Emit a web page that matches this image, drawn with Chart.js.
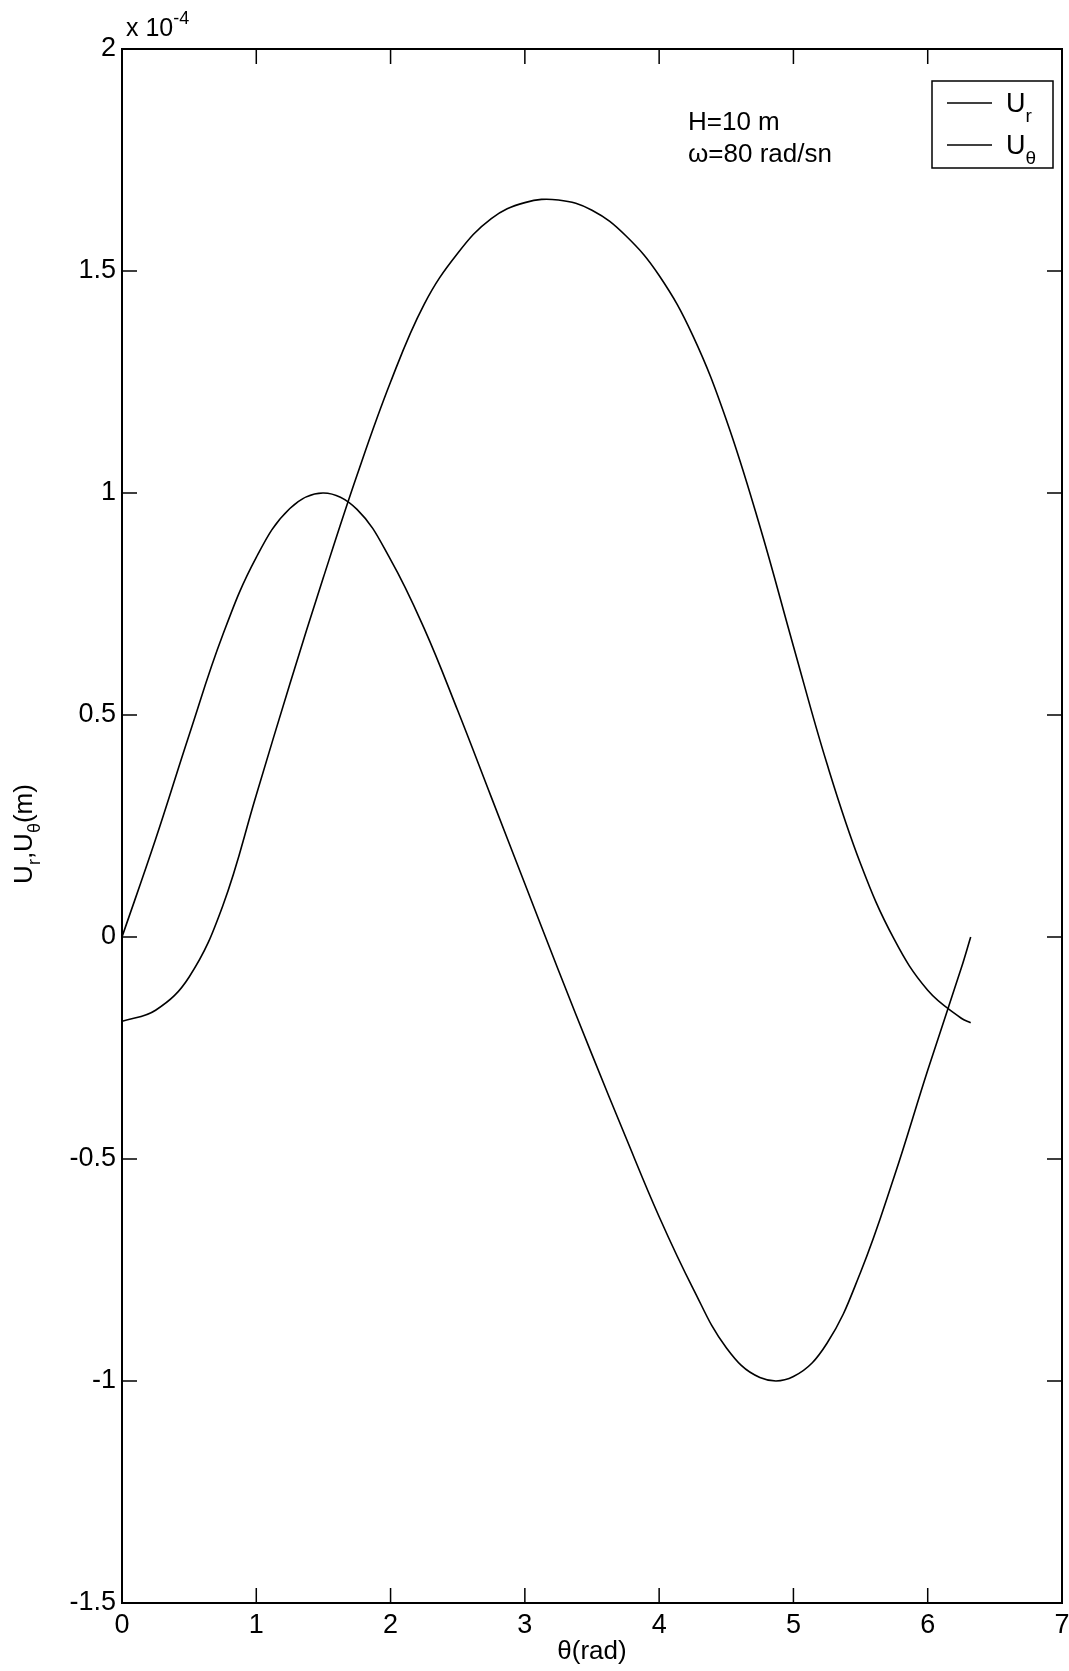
<!DOCTYPE html>
<html>
<head>
<meta charset="utf-8">
<script src="https://cdn.jsdelivr.net/npm/chart.js@4.4.0/dist/chart.umd.min.js"></script>
<style>
  html, body { margin: 0; padding: 0; background: #fff; }
  #wrap { width: 1069px; height: 1671px; }
</style>
</head>
<body>
<div id="wrap"><canvas id="c" width="1069" height="1671"></canvas></div>
<script>
// values, y in units of 1e-4 m
const theta = [0, 0.25, 0.5, 0.75, 1, 1.25, 1.5, 1.75, 2, 2.25, 2.5, 2.75, 3, 3.25, 3.5, 3.75, 4, 4.25, 4.5, 4.75, 5, 5.25, 5.5, 5.75, 6, 6.25, 6.32];
const ur = [0, 0.22, 0.455, 0.68, 0.855, 0.965, 1.0, 0.963, 0.85, 0.695, 0.51, 0.315, 0.12, -0.075, -0.265, -0.45, -0.63, -0.79, -0.925, -0.992, -0.99, -0.915, -0.755, -0.54, -0.3, -0.07, 0];
const ut = [-0.19, -0.165, -0.09, 0.07, 0.32, 0.57, 0.81, 1.04, 1.25, 1.425, 1.54, 1.618, 1.654, 1.66, 1.637, 1.58, 1.49, 1.355, 1.165, 0.925, 0.655, 0.39, 0.165, -0.005, -0.12, -0.183, -0.193];
const xTicks = [0, 1, 2, 3, 4, 5, 6, 7];
const yTicks = [-1.5, -1, -0.5, 0, 0.5, 1, 1.5, 2];
const legendItems = [{ main: "U", sub: "r" }, { main: "U", sub: "\u03b8" }];
const notes = ["H=10 m", "\u03c9=80 rad/sn"];

const FONT = '"Liberation Sans", Arial, Helvetica, sans-serif';

// text runs with sub/superscripts: [{t, size, dy}]
function richWidth(ctx, parts) {
  let w = 0;
  parts.forEach((p) => {
    ctx.font = p.size + "px " + FONT;
    w += ctx.measureText(p.t).width;
  });
  return w;
}
function drawRich(ctx, parts, x, y, align) {
  let cx = x;
  if (align === "center") cx = x - richWidth(ctx, parts) / 2;
  ctx.textAlign = "left";
  ctx.textBaseline = "alphabetic";
  parts.forEach((p) => {
    ctx.font = p.size + "px " + FONT;
    ctx.fillText(p.t, cx, y + (p.dy || 0));
    cx += ctx.measureText(p.t).width;
  });
}

const framePlugin = {
  id: "frame",
  afterDraw(chart) {
    const { ctx, chartArea: a, scales } = chart;
    ctx.save();
    ctx.strokeStyle = "#000";
    ctx.fillStyle = "#000";

    // box + inward ticks on all four sides
    ctx.lineWidth = 2;
    ctx.strokeRect(a.left, a.top, a.right - a.left, a.bottom - a.top);
    const tl = 15;
    ctx.lineWidth = 1.5;
    ctx.beginPath();
    xTicks.forEach((v) => {
      const px = scales.x.getPixelForValue(v);
      ctx.moveTo(px, a.bottom);
      ctx.lineTo(px, a.bottom - tl);
      ctx.moveTo(px, a.top);
      ctx.lineTo(px, a.top + tl);
    });
    yTicks.forEach((v) => {
      const py = scales.y.getPixelForValue(v);
      ctx.moveTo(a.left, py);
      ctx.lineTo(a.left + tl, py);
      ctx.moveTo(a.right, py);
      ctx.lineTo(a.right - tl, py);
    });
    ctx.stroke();

    // exponent label
    drawRich(ctx, [
      { t: "x 10", size: 25 },
      { t: "-4", size: 18, dy: -12 },
    ], a.left + 4, 36);

    // annotation
    ctx.font = "26px " + FONT;
    ctx.textAlign = "left";
    ctx.fillText(notes[0], 688, 130);
    ctx.fillText(notes[1], 688, 162);

    // legend
    const bx = a.right - 130, by = a.top + 32, bw = 121, bh = 87;
    ctx.lineWidth = 1.5;
    ctx.strokeRect(bx, by, bw, bh);
    legendItems.forEach((it, i) => {
      const ly = by + 22 + i * 42;
      ctx.lineWidth = 1.5;
      ctx.beginPath();
      ctx.moveTo(bx + 15, ly);
      ctx.lineTo(bx + 60, ly);
      ctx.stroke();
      drawRich(ctx, [
        { t: it.main, size: 27 },
        { t: it.sub, size: 19, dy: 10 },
      ], bx + 74, ly + 9);
    });

    // x title
    drawRich(ctx, [
      { t: "\u03b8", size: 26 },
      { t: "(rad)", size: 26 },
    ], (a.left + a.right) / 2, 1659, "center");

    // y title, rotated
    ctx.translate(32, 834);
    ctx.rotate(-Math.PI / 2);
    drawRich(ctx, [
      { t: "U", size: 26 },
      { t: "r", size: 18, dy: 8 },
      { t: ",", size: 26 },
      { t: "U", size: 26 },
      { t: "\u03b8", size: 18, dy: 8 },
      { t: "(m)", size: 26 },
    ], 0, 0, "center");
    ctx.restore();
  },
};

const lineStyle = {
  borderColor: "#000",
  borderWidth: 1.6,
  pointRadius: 0,
  tension: 0.4,
  fill: false,
};

new Chart(document.getElementById("c"), {
  type: "line",
  data: {
    datasets: [
      { label: "Ur", data: theta.map((t, i) => ({ x: t, y: ur[i] })), ...lineStyle },
      { label: "Ut", data: theta.map((t, i) => ({ x: t, y: ut[i] })), ...lineStyle },
    ],
  },
  options: {
    responsive: false,
    animation: false,
    events: [],
    layout: { padding: { top: 49, right: 7, left: 0, bottom: 0 } },
    plugins: { legend: { display: false }, tooltip: { enabled: false } },
    scales: {
      x: {
        type: "linear",
        min: 0,
        max: 7,
        afterFit: (axis) => {
          axis.height = 68;
          axis.paddingLeft = 0;
          axis.paddingRight = 0;
        },
        afterBuildTicks: (axis) => { axis.ticks = xTicks.map((v) => ({ value: v })); },
        grid: { display: false, drawTicks: false },
        border: { display: false },
        ticks: {
          color: "#000",
          padding: 6,
          maxRotation: 0,
          font: { family: FONT, size: 27 },
          callback: (v) => String(v),
        },
      },
      y: {
        type: "linear",
        min: -1.5,
        max: 2,
        afterFit: (axis) => {
          axis.width = 122;
          axis.paddingTop = 0;
          axis.paddingBottom = 0;
        },
        afterBuildTicks: (axis) => { axis.ticks = yTicks.map((v) => ({ value: v })); },
        grid: { display: false, drawTicks: false },
        border: { display: false },
        ticks: {
          color: "#000",
          padding: 6,
          font: { family: FONT, size: 27 },
          callback: (v) => String(v),
        },
      },
    },
  },
  plugins: [framePlugin],
});
</script>
</body>
</html>
